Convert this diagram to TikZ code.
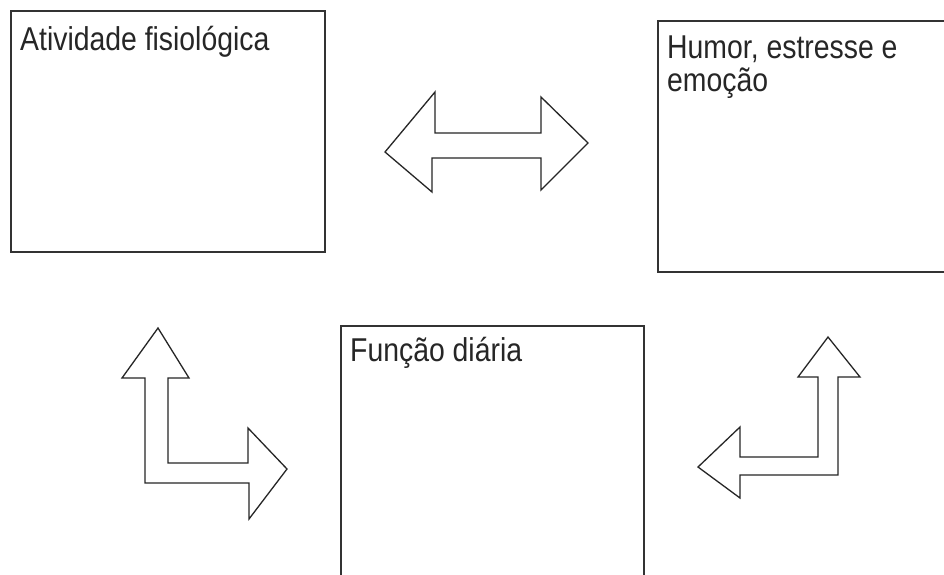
\documentclass[tikz,border=0pt]{standalone}
\usepackage{fontspec}
\setmainfont{Liberation Sans}
\usepackage{graphicx}
\newcommand{\estreito}[1]{\scalebox{0.86}[1]{#1}}
\tikzset{
	caixa/.style={draw=black!80, line width=1.3pt},
	seta/.style={draw=black!85, line width=1.3pt, line join=miter, fill=white},
	rotulo/.style={anchor=base west, inner sep=0pt,
		font=\fontsize{33}{28}\selectfont, text=black!85}
}

\begin{document}
\begin{tikzpicture}[x=1pt, y=-1pt]
		\clip (0,0) rectangle (944,574);
		\fill[white] (0,0) rectangle (944,574);
		% caixas
		\draw[caixa] (11,11) rectangle (325,252);
		\draw[caixa] (658,21) rectangle (960,272);
		\draw[caixa] (341,326) rectangle (644,590);
		\node[rotulo] (fisio) at (20,50) {\estreito{Atividade fisiológica}};
		\node[rotulo] (humor) at (667,58) {\estreito{Humor, estresse e}};
		\node[rotulo] (emocao) at (667,91) {\estreito{emoção}};
		\node[rotulo] (funcao) at (350,361) {\estreito{Função diária}};
		% seta dupla
		\draw[seta] (385,152) -- (435,92) -- (435,133) -- (541,133) -- (541,97)
			-- (588,143) -- (541,190) -- (541,158) -- (432,158) -- (432,192) -- cycle;
		% seta em L, esquerda
		\draw[seta] (158,328) -- (189,378) -- (168,378) -- (168,463) -- (248,463)
			-- (248,428) -- (287,469) -- (249,519) -- (249,483) -- (145,483)
			-- (145,378) -- (122,378) -- cycle;
		% seta em L, direita
		\draw[seta] (828,337) -- (860,377) -- (838,377) -- (838,475) -- (740,475)
			-- (740,498) -- (698,467) -- (740,427) -- (740,457) -- (818,457)
			-- (818,377) -- (798,377) -- cycle;
	\end{tikzpicture}
\end{document}
